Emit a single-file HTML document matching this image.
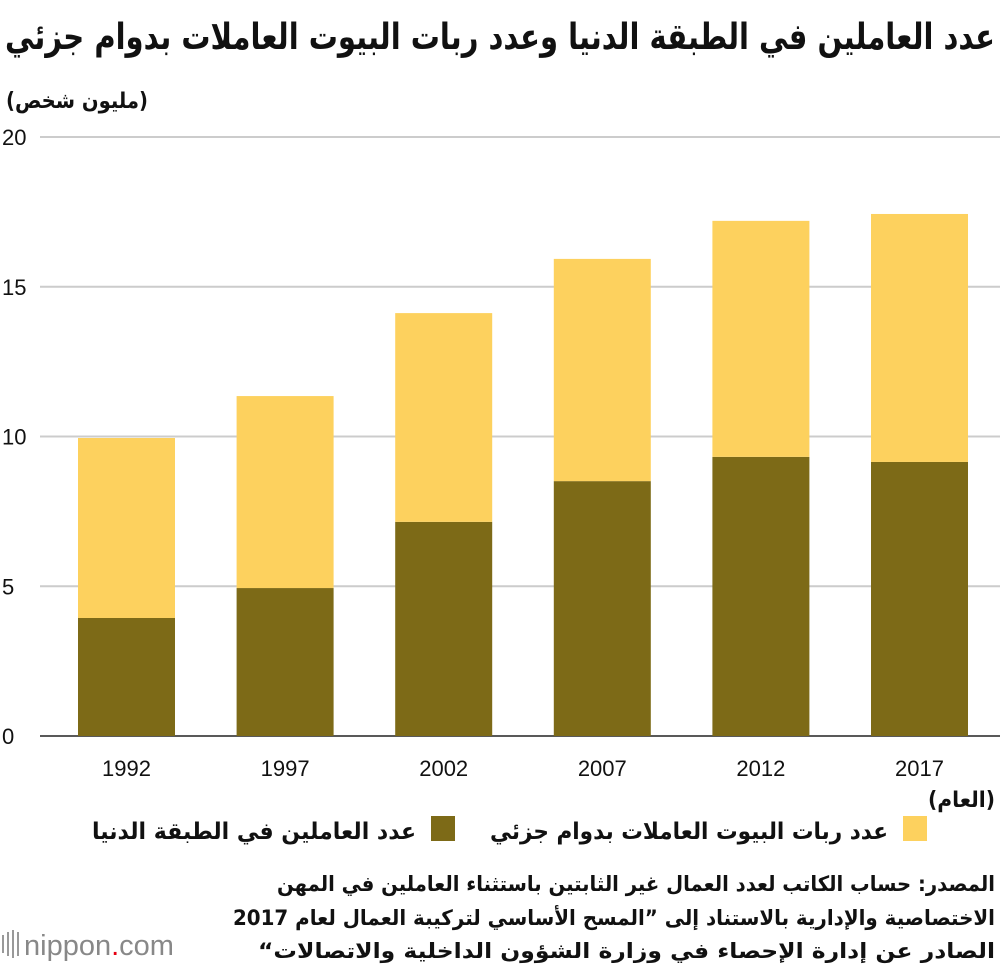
<!DOCTYPE html>
<html><head><meta charset="utf-8"><style>
body{margin:0;background:#fff;width:1000px;height:970px;overflow:hidden}
svg{display:block}
.ar{font-family:"DejaVu Sans","Liberation Sans",sans-serif;font-weight:bold}
.num{font-family:"Liberation Sans",sans-serif;font-size:22px;fill:#111}
</style></head><body>
<svg id="chart" width="1000" height="970" xmlns="http://www.w3.org/2000/svg">
<text class="ar" x="5" y="49" font-size="36" fill="#111" textLength="990" lengthAdjust="spacingAndGlyphs">عدد العاملين في الطبقة الدنيا وعدد ربات البيوت العاملات بدوام جزئي</text>
<text class="ar" x="6" y="108" font-size="22" fill="#111" textLength="142" lengthAdjust="spacingAndGlyphs">(مليون شخص)</text>
<g id="grid"></g>
<g id="bars"></g>
<g id="xlabels"></g>
<text class="ar" x="928" y="807" font-size="22" fill="#111" textLength="67" lengthAdjust="spacingAndGlyphs">(العام)</text>
<rect x="903" y="816" width="24" height="25" fill="#fdd15e"/>
<text class="ar" x="490" y="839" font-size="23" fill="#111" textLength="398" lengthAdjust="spacingAndGlyphs">عدد ربات البيوت العاملات بدوام جزئي</text>
<rect x="431" y="816" width="24" height="25" fill="#7d6a17"/>
<text class="ar" x="92" y="839" font-size="23" fill="#111" textLength="324" lengthAdjust="spacingAndGlyphs">عدد العاملين في الطبقة الدنيا</text>
<g>
<text class="ar" x="277" y="891" font-size="21" fill="#111" textLength="718" lengthAdjust="spacingAndGlyphs">المصدر: حساب الكاتب لعدد العمال غير الثابتين باستثناء العاملين في المهن</text>
<text class="ar" x="233" y="925" font-size="21" fill="#111" textLength="762" lengthAdjust="spacingAndGlyphs">الاختصاصية والإدارية بالاستناد إلى ”المسح الأساسي لتركيبة العمال لعام 2017</text>
<text class="ar" x="258" y="958" font-size="21" fill="#111" textLength="737" lengthAdjust="spacingAndGlyphs">الصادر عن إدارة الإحصاء في وزارة الشؤون الداخلية والاتصالات“&#x200F;</text>
</g>
<g>
<rect x="2" y="935" width="2" height="18" fill="#999"/><rect x="7" y="932" width="2" height="24" fill="#999"/><rect x="12" y="930" width="2" height="28" fill="#999"/><rect x="17" y="932" width="2" height="24" fill="#999"/>
<text x="24" y="955" font-family="Liberation Sans,sans-serif" font-size="29" fill="#888">nippon<tspan fill="#e60012">.</tspan>com</text>
</g>
</svg>
<script>
const categories=["1992","1997","2002","2007","2012","2017"];
const lowerClass=[3.94,4.94,7.15,8.51,9.32,9.15];
const housewives=[6.01,6.41,6.97,7.42,7.88,8.28];
const yTicks=[0,5,10,15,20];
const NS="http://www.w3.org/2000/svg";
const y0=736,y1=137,yMax=20;
function yS(v){return y0-(y0-y1)*v/yMax;}
function xS(i){return 78+i*158.6;}
const bw=97;
const grid=document.getElementById('grid');
yTicks.forEach(t=>{
 const l=document.createElementNS(NS,'line');
 l.setAttribute('x1',40);l.setAttribute('x2',1000);l.setAttribute('y1',yS(t));l.setAttribute('y2',yS(t));
 l.setAttribute('stroke',t===0?'#222':'#ccc');l.setAttribute('stroke-width',t===0?1.5:2);
 
 
 grid.appendChild(l);
 const tx=document.createElementNS(NS,'text');
 tx.setAttribute('x',2);tx.setAttribute('y',yS(t)+8);tx.setAttribute('class','num');tx.textContent=t;
 
 
 grid.appendChild(tx);
});
const bars=document.getElementById('bars'),xl=document.getElementById('xlabels');
categories.forEach((c,i)=>{
 const x=xS(i);
 const d=document.createElementNS(NS,'rect');
 d.setAttribute('x',x);d.setAttribute('width',bw);d.setAttribute('y',yS(lowerClass[i]));d.setAttribute('height',y0-yS(lowerClass[i]));d.setAttribute('fill','#7d6a17');
 
 
 bars.appendChild(d);
 const top=lowerClass[i]+housewives[i];
 const h=document.createElementNS(NS,'rect');
 h.setAttribute('x',x);h.setAttribute('width',bw);h.setAttribute('y',yS(top));h.setAttribute('height',yS(lowerClass[i])-yS(top));h.setAttribute('fill','#fdd15e');
 
 
 bars.appendChild(h);
 const t=document.createElementNS(NS,'text');
 t.setAttribute('x',x+bw/2);t.setAttribute('y',776);t.setAttribute('text-anchor','middle');t.setAttribute('class','num');t.textContent=c;
 
 
 xl.appendChild(t);
});
</script>
</body></html>
